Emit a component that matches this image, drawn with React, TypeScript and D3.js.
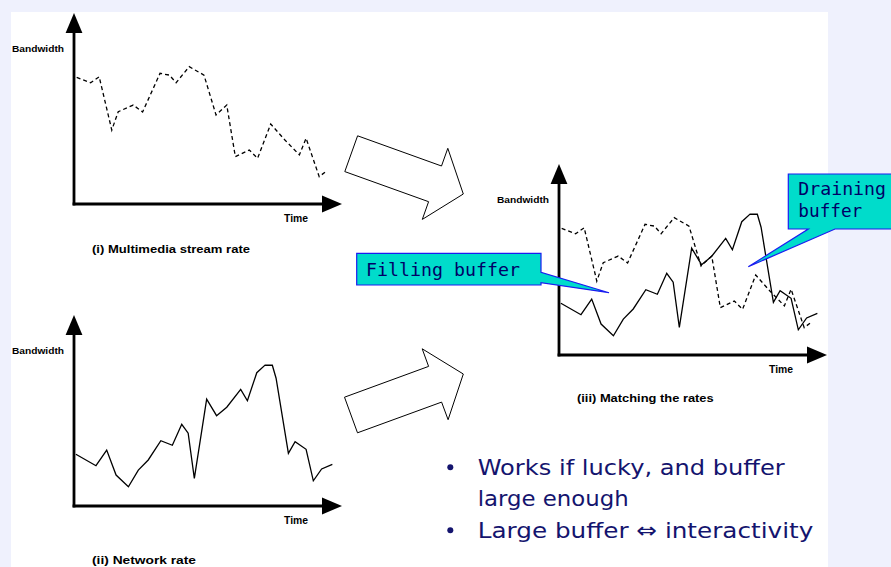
import React from 'react';
import * as d3 from 'd3';

const W = 891;
const H = 567;

// Multimedia stream rate (dashed): time (0-100) and bandwidth (0-100)
const STREAM_TIME = [1.0, 6.2, 9.4, 14.1, 16.5, 22.1, 25.6, 32.1, 35.6, 38.1, 43.0, 48.5, 53.0, 57.0, 60.2, 65.4, 68.5, 73.4, 78.7, 84.1, 86.6, 91.5, 94.3];
const STREAM_BW = [66.3, 63.5, 66.6, 38.7, 48.3, 51.8, 48.2, 68.4, 67.5, 63.5, 71.9, 67.5, 46.6, 51.8, 24.8, 28.3, 23.9, 41.9, 33.5, 25.7, 34.4, 14.3, 17.4];

// Network rate (solid)
const NET_TIME = [0.7, 8.2, 12.2, 15.7, 20.3, 24.0, 27.7, 32.4, 36.7, 40.2, 42.6, 44.9, 49.5, 53.2, 57.0, 62.2, 64.7, 68.2, 71.3, 74.0, 75.4, 80.0, 82.5, 86.6, 89.3, 92.4, 96.4];
const NET_BW = [27.1, 21.1, 29.3, 16.2, 10.1, 18.8, 24.1, 34.2, 31.8, 42.8, 38.1, 14.5, 55.9, 47.3, 51.7, 61.1, 55.1, 69.8, 73.8, 73.7, 66.9, 27.6, 33.7, 29.7, 13.2, 19.4, 21.8];

const Y_LABEL = 'Bandwidth';
const X_LABEL = 'Time';
const CAPTIONS = ['(i) Multimedia stream rate', '(ii) Network rate', '(iii) Matching the rates'];
const CALLOUT_FILL = 'Filling buffer';
const CALLOUT_DRAIN = ['Draining', 'buffer'];
const BULLETS = [['Works if lucky, and buffer', 'large enough'], ['Large buffer \u21D4 interactivity']];

const stream: [number, number][] = STREAM_TIME.map((t, i) => [t, STREAM_BW[i]]);
const network: [number, number][] = NET_TIME.map((t, i) => [t, NET_BW[i]]);

const AX_W = 268;
const AX_H = 191;
const LABEL_FONT = 'Liberation Sans, Arial, Helvetica, sans-serif';
const NAVY = '#14146e';

function blockArrow(tx: number, ty: number, hx: number, hy: number, shaftW: number, headW: number, headL: number) {
  const len = Math.hypot(hx - tx, hy - ty);
  const ux = (hx - tx) / len, uy = (hy - ty) / len;
  const nx = -uy, ny = ux;
  const bx = hx - ux * headL, by = hy - uy * headL;
  const s = shaftW / 2, h = headW / 2;
  const pts = [
    [tx + nx * s, ty + ny * s],
    [bx + nx * s, by + ny * s],
    [bx + nx * h, by + ny * h],
    [hx, hy],
    [bx - nx * h, by - ny * h],
    [bx - nx * s, by - ny * s],
    [tx - nx * s, ty - ny * s],
  ];
  return 'M' + pts.map((p) => p[0].toFixed(1) + ',' + p[1].toFixed(1)).join('L') + 'Z';
}

type PanelProps = {
  ox: number;
  oy: number;
  caption: string;
  capDy: number;
  capLen: number;
  showStream: boolean;
  showNet: boolean;
};

function Panel({ ox, oy, caption, capDy, capLen, showStream, showNet }: PanelProps) {
  const x = d3.scaleLinear().domain([0, 100]).range([ox, ox + AX_W]);
  const y = d3.scaleLinear().domain([0, 100]).range([oy, oy - AX_H]);
  const line = d3
    .line<[number, number]>()
    .x((d) => x(d[0]))
    .y((d) => y(d[1]));
  const x0 = x(0), y0 = y(0), xEnd = x(100), yEnd = y(100);
  const headL = 20, headH = 8.4;
  return (
    <g>
      {showStream && (
        <path d={line(stream) || ''} fill="none" stroke="#000" strokeWidth={1.3} strokeDasharray="4,3" />
      )}
      {showNet && <path d={line(network) || ''} fill="none" stroke="#000" strokeWidth={1.3} />}
      <line x1={x0} y1={yEnd + headL - 1} x2={x0} y2={y0 + 1.4} stroke="#000" strokeWidth={2.8} />
      <line x1={x0 - 1.4} y1={y0} x2={xEnd - headL + 1} y2={y0} stroke="#000" strokeWidth={2.8} />
      <path d={`M${x0},${yEnd}L${x0 + headH},${yEnd + headL}L${x0 - headH},${yEnd + headL}Z`} fill="#000" />
      <path d={`M${xEnd},${y0}L${xEnd - headL},${y0 - headH}L${xEnd - headL},${y0 + headH}Z`} fill="#000" />
      <text x={x0 - 62} y={y0 - 152.5} fontFamily={LABEL_FONT} fontWeight="bold" fontSize={9.5} textLength={52} lengthAdjust="spacingAndGlyphs">
        {Y_LABEL}
      </text>
      <text x={x0 + 210} y={y0 + 18.3} fontFamily={LABEL_FONT} fontWeight="bold" fontSize={10} textLength={24} lengthAdjust="spacingAndGlyphs">
        {X_LABEL}
      </text>
      <text x={x0 + 18} y={y0 + capDy} fontFamily={LABEL_FONT} fontWeight="bold" fontSize={11.5} textLength={capLen} lengthAdjust="spacingAndGlyphs">
        {caption}
      </text>
    </g>
  );
}

export default function App() {
  const fillPath = 'M356.7,253.3H541V272.3L609,292.7L541,282.7V285H356.7Z';
  const drainPath = 'M788.3,174H900V229H835L748.3,266.7L808.3,229H788.3Z';
  return (
    <svg
      width={W}
      height={H}
      viewBox={`0 0 ${W} ${H}`}
      style={{ position: 'absolute', left: 0, top: 0, display: 'block' }}
    >
      <rect x={0} y={0} width={W} height={H} fill="#eff1fd" />
      <rect x={11} y={12} width={817} height={555} fill="#ffffff" />

      <Panel ox={74} oy={204} caption={CAPTIONS[0]} capDy={48.5} capLen={158} showStream showNet={false} />
      <Panel ox={74} oy={506} caption={CAPTIONS[1]} capDy={57.5} capLen={104} showStream={false} showNet />
      <Panel ox={559} oy={355} caption={CAPTIONS[2]} capDy={47} capLen={136.7} showStream showNet />

      <path d={blockArrow(351.2, 153.7, 463.3, 194, 38, 75.5, 30)} fill="#fff" stroke="#000" strokeWidth={1} />
      <path d={blockArrow(351.0, 415.0, 463.3, 374, 38, 75.5, 30)} fill="#fff" stroke="#000" strokeWidth={1} />

      <path d={fillPath} fill="#00dccb" stroke="#1c1cf0" strokeWidth={1.2} />
      <text x={366} y={276} fontFamily="DejaVu Sans Mono, Liberation Mono, monospace" fontSize={18} fill="#000066" textLength={154} lengthAdjust="spacingAndGlyphs">
        {CALLOUT_FILL}
      </text>
      <path d={drainPath} fill="#00dccb" stroke="#1c1cf0" strokeWidth={1.2} />
      <text x={798.3} y={195} fontFamily="DejaVu Sans Mono, Liberation Mono, monospace" fontSize={18} fill="#000066" textLength={87.7} lengthAdjust="spacingAndGlyphs">
        {CALLOUT_DRAIN[0]}
      </text>
      <text x={798.3} y={216.7} fontFamily="DejaVu Sans Mono, Liberation Mono, monospace" fontSize={18} fill="#000066" textLength={64} lengthAdjust="spacingAndGlyphs">
        {CALLOUT_DRAIN[1]}
      </text>

      <circle cx={450.3} cy={467.2} r={3} fill={NAVY} />
      <circle cx={450.3} cy={530.3} r={3} fill={NAVY} />
      <text x={477.7} y={475} fontFamily="DejaVu Sans, Verdana, sans-serif" fontSize={22} fill={NAVY} textLength={307} lengthAdjust="spacingAndGlyphs">
        {BULLETS[0][0]}
      </text>
      <text x={477.7} y={505.5} fontFamily="DejaVu Sans, Verdana, sans-serif" fontSize={22} fill={NAVY} textLength={151} lengthAdjust="spacingAndGlyphs">
        {BULLETS[0][1]}
      </text>
      <text x={477.7} y={537.7} fontFamily="DejaVu Sans, Verdana, sans-serif" fontSize={22} fill={NAVY} textLength={335.6} lengthAdjust="spacingAndGlyphs">
        {BULLETS[1][0]}
      </text>
    </svg>
  );
}
